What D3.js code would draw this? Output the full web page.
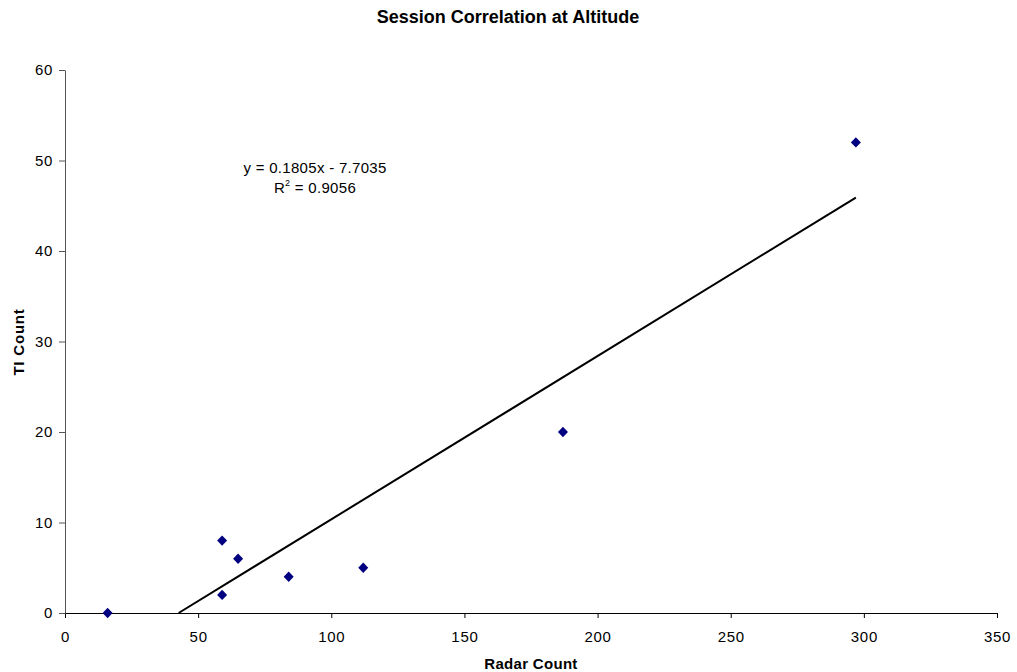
<!DOCTYPE html>
<html><head><meta charset="utf-8">
<script src="https://cdn.jsdelivr.net/npm/d3@7"></script>
<style>body{margin:0;background:#fff}text{font-family:"Liberation Sans",Arial,sans-serif}</style>
</head><body>
<svg id="c" width="1017" height="672"></svg>
<script>
const radarCount = [16, 59, 59, 65, 84, 112, 187, 297];
const tiCount = [0, 8, 2, 6, 4, 5, 20, 52];
const xTicks = [0, 50, 100, 150, 200, 250, 300, 350];
const yTicks = [0, 10, 20, 30, 40, 50, 60];
const slope = 0.1805, intercept = -7.7035, r2 = 0.9056;

const svg = d3.select("#c");
const m = {l:65, r:997, t:70, b:613};
const x = d3.scaleLinear().domain([0,350]).range([m.l, m.r]);
const y = d3.scaleLinear().domain([0,60]).range([m.b, m.t]);
const ff = "Liberation Sans, Arial, sans-serif";

svg.append("text").attr("x",508).attr("y",23).attr("text-anchor","middle")
  .attr("font-size",18).attr("font-weight","bold").text("Session Correlation at Altitude");

const xa = svg.append("g").attr("transform",`translate(0,${m.b})`)
  .call(d3.axisBottom(x).tickValues(xTicks).tickSize(5).tickSizeOuter(0).tickPadding(13));
xa.select(".domain").attr("stroke","#000");
xa.selectAll(".tick line").attr("stroke","#000");
xa.selectAll("text").attr("font-size",15).attr("fill","#000").style("font-family",ff).style("letter-spacing","0.7px");

const ya = svg.append("g").attr("transform",`translate(${m.l},0)`)
  .call(d3.axisLeft(y).tickValues(yTicks).tickSize(6).tickSizeOuter(0).tickPadding(6));
ya.select(".domain").attr("stroke","#555");
ya.selectAll(".tick line").attr("stroke","#555");
ya.selectAll("text").attr("font-size",15).attr("fill","#000").style("font-family",ff).style("letter-spacing","0.7px");

svg.append("text").attr("x",531).attr("y",669).attr("text-anchor","middle")
  .attr("font-size",15).attr("font-weight","bold").style("letter-spacing","0.3px").text("Radar Count");
svg.append("text").attr("transform","translate(24,342) rotate(-90)").attr("text-anchor","middle")
  .attr("font-size",15).attr("font-weight","bold").style("letter-spacing","0.8px").text("TI Count");

// trendline
const x0 = -intercept/slope, x1 = d3.max(radarCount);
svg.append("line").attr("x1",x(x0)).attr("y1",y(0)).attr("x2",x(x1)).attr("y2",y(slope*x1+intercept))
  .attr("stroke","#000").attr("stroke-width",2);

// points
svg.append("g").selectAll("path").data(radarCount.map((d,i)=>[d,tiCount[i]])).join("path")
  .attr("transform",d=>`translate(${x(d[0])},${y(d[1])})`)
  .attr("d","M0,-5.2L5,0L0,5.2L-5,0Z").attr("fill","#000080");

svg.append("text").attr("x",315).attr("y",173).attr("text-anchor","middle").attr("font-size",15)
  .style("letter-spacing","0.3px").text(`y = ${slope}x - ${(-intercept).toFixed(4)}`);
const t2 = svg.append("text").attr("x",315).attr("y",193).attr("text-anchor","middle").attr("font-size",15)
  .style("letter-spacing","0.3px");
t2.append("tspan").text("R");
t2.append("tspan").attr("font-size",9).attr("dy",-7).text("2");
t2.append("tspan").attr("dy",7).text(` = ${r2}`);
</script>
</body></html>
